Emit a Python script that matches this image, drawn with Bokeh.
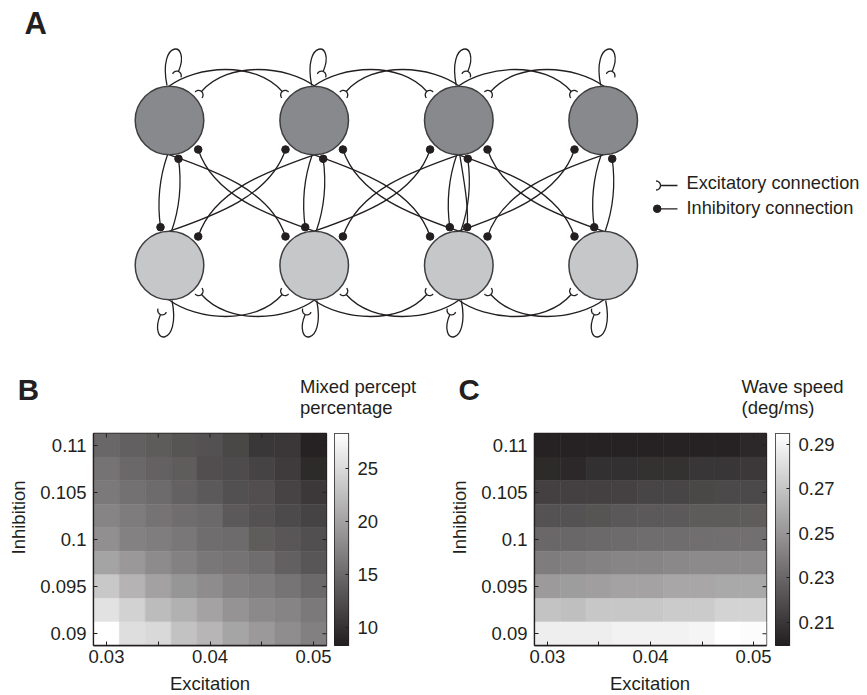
import numpy as np
from bokeh.plotting import figure
from bokeh.models import ColumnDataSource, Range1d, LinearColorMapper, FixedTicker
from bokeh.layouts import column, row
from bokeh.embed import file_html
from bokeh.resources import INLINE
from bokeh.core.properties import value

FONT = "Liberation Sans"
INK = "#231f20"

# ---------------- Panel A : network diagram ----------------
node_x = [169.0, 313.7, 458.3, 602.7]      # column centres (px)
row_y = [120.0, 265.0]                     # top row, bottom row (px)
node_r = 34.3
node_fill = ["#88898c", "#c6c7c9"]
extra_vertical = [2]                        # column with a second top->bottom inhibitory link
legend_labels = ["Excitatory connection", "Inhibitory connection"]

# ---------------- Panels B and C : parameter sweeps ----------------
excitation = [0.03, 0.0325, 0.035, 0.0375, 0.04, 0.0425, 0.045, 0.0475, 0.05]
inhibition_top_down = [0.11, 0.1075, 0.105, 0.1025, 0.1, 0.0975, 0.095, 0.0925, 0.09]

mixed_percept = [
    [14.7, 14.1, 13.6, 13.0, 12.8, 11.8, 10.4, 10.4, 8.5],
    [15.8, 14.8, 14.2, 13.7, 12.5, 12.2, 11.5, 10.8, 9.2],
    [16.3, 15.6, 15.0, 14.2, 13.5, 12.7, 12.5, 11.5, 10.6],
    [17.3, 16.6, 15.8, 15.3, 14.9, 13.5, 12.8, 12.1, 11.5],
    [18.3, 17.1, 16.7, 16.1, 15.3, 15.0, 13.7, 13.2, 12.6],
    [20.1, 19.1, 17.9, 17.1, 16.1, 15.8, 15.3, 14.1, 13.2],
    [23.3, 21.5, 19.9, 18.9, 18.0, 17.1, 16.6, 15.9, 14.9],
    [25.7, 24.3, 22.3, 21.3, 20.0, 18.6, 17.8, 17.3, 16.3],
    [28.3, 25.4, 24.9, 22.8, 21.7, 20.2, 19.2, 18.1, 16.9],
]
wave_speed = [
    [0.2008, 0.2008, 0.2008, 0.2009, 0.2009, 0.2008, 0.2008, 0.2008, 0.2034],
    [0.2043, 0.2034, 0.2069, 0.2069, 0.2073, 0.2073, 0.2095, 0.2095, 0.2104],
    [0.2138, 0.2138, 0.2138, 0.2143, 0.2156, 0.2156, 0.2164, 0.2177, 0.2177],
    [0.2212, 0.2212, 0.2221, 0.2238, 0.2242, 0.2242, 0.2251, 0.2251, 0.2255],
    [0.2303, 0.2303, 0.2312, 0.2321, 0.2329, 0.2329, 0.2334, 0.2338, 0.2338],
    [0.2394, 0.2403, 0.2420, 0.2429, 0.2429, 0.2442, 0.2451, 0.2451, 0.2451],
    [0.2520, 0.2529, 0.2538, 0.2551, 0.2551, 0.2572, 0.2572, 0.2581, 0.2581],
    [0.2694, 0.2677, 0.2711, 0.2711, 0.2711, 0.2729, 0.2729, 0.2763, 0.2763],
    [0.2876, 0.2876, 0.2876, 0.2894, 0.2894, 0.2894, 0.2907, 0.2950, 0.2937],
]
mixed_range = (8.26, 28.3)
speed_range = (0.1995, 0.295)

x_ticks = [0.03, 0.04, 0.05]
x_tick_labels = ["0.03", "0.04", "0.05"]
x_minor_ticks = [0.035, 0.045]
y_ticks = [0.09, 0.095, 0.1, 0.105, 0.11]
y_tick_labels = ["0.09", "0.095", "0.1", "0.105", "0.11"]
mixed_ticks = [10, 15, 20, 25]
mixed_tick_labels = ["10", "15", "20", "25"]
speed_ticks = [0.21, 0.23, 0.25, 0.27, 0.29]
speed_tick_labels = ["0.21", "0.23", "0.25", "0.27", "0.29"]

# grey colormap (printed black -> white)
c0 = np.array([35, 31, 32])
c1 = np.array([255, 255, 255])
GRAY = ["#%02x%02x%02x" % tuple(np.round(c0 + (c1 - c0) * t).astype(int))
        for t in np.linspace(0, 1, 256)]

# page layout (pixels)
PAGE_W = 865
TOP_H = 422            # panel A + titles of B/C
MID_TOP = TOP_H
FRAME_TOP, FRAME_H, FRAME_W = 433, 212, 233
MID_H = 250            # 422 .. 672
BOT_H = 22             # 672 .. 694
BOT_TOP = MID_TOP + MID_H


def common(**kw):
    return dict(output_backend="svg", toolbar_location=None, **kw)


def ptext(fig, xs, ys, texts, size=18.5, style="normal", align="left", angle=0.0, yflip=False):
    """Place text by its baseline point given in page pixels."""
    k = 0.36 * size   # renderer places glyphs this far below the anchor; compensate
    px = [x - k * np.sin(angle) for x in xs]
    py = [y - k * np.cos(angle) for y in ys]
    if yflip:
        py = [-y for y in py]
    fig.text(x=px, y=py, text=texts, text_font=value(FONT), text_font_size="%.1fpx" % size,
             text_font_style=style, text_color=INK, text_baseline="alphabetic",
             text_align=align, angle=angle)


# ======================= Panel A (plus panel titles) =======================
pa = figure(width=PAGE_W, height=TOP_H, x_range=Range1d(0, PAGE_W), y_range=Range1d(TOP_H, 0),
            x_axis_location=None, y_axis_location=None, min_border=0,
            outline_line_color=None, **common())
pa.grid.grid_line_color = None

yt, yb = row_y
ymid = 0.5 * (yt + yb)
bz = dict(x0=[], y0=[], x1=[], y1=[], cx0=[], cy0=[], cx1=[], cy1=[])
exc_ends = []
inh_ends = []


def add_curve(P0, P1, P2, P3, kind):
    bz["x0"].append(P0[0]); bz["y0"].append(P0[1])
    bz["cx0"].append(P1[0]); bz["cy0"].append(P1[1])
    bz["cx1"].append(P2[0]); bz["cy1"].append(P2[1])
    bz["x1"].append(P3[0]); bz["y1"].append(P3[1])
    d = np.array(P3, float) - np.array(P2, float)
    d = d / np.hypot(*d)
    if kind == "exc":
        exc_ends.append((np.array(P3, float), d))
    else:
        inh_ends.append(P3)


def mirror_x(pts, xc):
    return [(2 * xc - x, y) for x, y in pts]


def mirror_y(pts, yc):
    return [(x, 2 * yc - y) for x, y in pts]


def rot180(pts, xc, yc):
    return [(2 * xc - x, 2 * yc - y) for x, y in pts]


# self loops: top row, and the same loop turned round for the bottom row
for x in node_x:
    loop = [(x - 2.5, yt - 35), (x - 12, yt - 82), (x + 22, yt - 80), (x + 9, yt - 49)]
    add_curve(*loop, "exc")
    add_curve(*[(2 * x - px, yb - (py - yt)) for px, py in loop], "exc")

# excitatory arcs between neighbours (top row, mirrored for bottom row)
for i in range(len(node_x) - 1):
    xa, xb2 = node_x[i], node_x[i + 1]
    xc = 0.5 * (xa + xb2)
    S = (xa - 1, yt - node_r + 0.3)
    E = (xb2 - 32, yt - 29)
    arc = [S, (S[0] + 28, S[1] - 21), (E[0] - 27, E[1] - 31), E]
    for a in (arc, mirror_x(arc, xc)):
        add_curve(*a, "exc")
        add_curve(*mirror_y(a, ymid), "exc")

# vertical inhibitory connections
for x in node_x:
    v = [(x - 2, yt + node_r), (x - 11, yt + 60), (x - 12, yt + 85), (x - 9, yb - 38.3)]
    add_curve(*v, "inh")
    add_curve(*rot180(v, x, ymid), "inh")
for i in extra_vertical:
    x = node_x[i]
    add_curve((x + 1, yt + node_r), (x + 5, yt + 60), (x + 10, yt + 85), (x + 8.4, yb - 38.3),
              "inh")

# diagonal inhibitory connections
for i in range(len(node_x) - 1):
    xa, xb2 = node_x[i], node_x[i + 1]
    xc = 0.5 * (xa + xb2)
    P3 = (xb2 - 28.7, yb - 29)
    d = [(xa, yt + node_r), (xa + 46, yt + node_r + 16), (P3[0] - 15, P3[1] - 46), P3]
    for c in (d, mirror_x(d, xc), rot180(d, xc, ymid), mirror_x(rot180(d, xc, ymid), xc)):
        add_curve(*c, "inh")

pa.bezier(x0="x0", y0="y0", x1="x1", y1="y1", cx0="cx0", cy0="cy0", cx1="cx1", cy1="cy1",
          source=ColumnDataSource(bz), line_color=INK, line_width=1.3)

cx = [x for _ in row_y for x in node_x]
cy = [y for y in row_y for _ in node_x]
cf = [f for f in node_fill for _ in node_x]
pa.circle(x=cx, y=cy, radius=node_r, fill_color=cf, line_color="#3e3e40", line_width=1.5)


def cup(E, u, rho=4.5):
    n = np.array([-u[1], u[0]])
    c = E + u * rho
    ph = np.linspace(-np.pi / 2, np.pi / 2, 15)
    pts = [c + rho * (-u * np.cos(f) + n * np.sin(f)) for f in ph]
    return [p[0] for p in pts], [p[1] for p in pts]


# legend marks
leg_x0, leg_x1 = 677, 660
leg_y = [185.0, 208.3]
pa.segment(x0=[leg_x0, leg_x0], y0=leg_y, x1=[leg_x1, leg_x1 - 2], y1=leg_y,
           line_color=INK, line_width=1.3)
exc_ends.append((np.array([leg_x1, leg_y[0]]), np.array([-1.0, 0.0])))
inh_ends.append((leg_x1 - 3.3, leg_y[1]))

cups = [cup(E, u) for E, u in exc_ends]
pa.multi_line(xs=[c[0] for c in cups], ys=[c[1] for c in cups], line_color=INK, line_width=1.3)
pa.scatter(x=[p[0] for p in inh_ends], y=[p[1] for p in inh_ends], size=7.6,
           fill_color=INK, line_color=INK)

ptext(pa, [686.0, 686.0], [189.0, 214.5], legend_labels, size=18.2)
ptext(pa, [24], [34.3], ["A"], size=31, style="bold")
ptext(pa, [17.3, 458.0], [399.3, 399.3], ["B", "C"], size=29.5, style="bold")
ptext(pa, [299.5, 299.5, 741.0, 741.0], [392.5, 413.5, 392.5, 413.5],
      ["Mixed percept", "percentage", "Wave speed", "(deg/ms)"])

# ======================= Panels B, C =======================
dx = excitation[1] - excitation[0]
dy = inhibition_top_down[0] - inhibition_top_down[1]
TB = FRAME_TOP - MID_TOP
BB = MID_H - TB - FRAME_H


def style_axis(ax):
    ax.major_tick_in = 4
    ax.major_tick_out = 0
    ax.minor_tick_in = 4
    ax.minor_tick_out = 0
    ax.axis_line_color = INK
    ax.axis_line_width = 1.3
    ax.major_tick_line_color = INK
    ax.minor_tick_line_color = INK
    ax.major_label_text_font = FONT
    ax.major_label_text_font_size = "18.5px"
    ax.major_label_text_color = INK


def heat_panel(grid, mapper, fig_w, left):
    xr = Range1d(min(excitation) - dx / 2, max(excitation) + dx / 2)
    yr = Range1d(min(inhibition_top_down) - dy / 2, max(inhibition_top_down) + dy / 2)
    p = figure(width=fig_w, height=MID_H, x_range=xr, y_range=yr,
               min_border_left=left, min_border_right=fig_w - left - FRAME_W,
               min_border_top=TB, min_border_bottom=BB,
               outline_line_color=INK, outline_line_width=1.3, **common())
    p.grid.grid_line_color = None
    X, Y, V = [], [], []
    for r, yv in enumerate(inhibition_top_down):
        for c, xv in enumerate(excitation):
            X.append(xv); Y.append(yv); V.append(grid[r][c])
    src = ColumnDataSource(dict(x=X, y=Y, v=V))
    p.rect("x", "y", width=dx, height=dy, source=src,
           fill_color={"field": "v", "transform": mapper},
           line_color={"field": "v", "transform": mapper}, line_width=0.6)

    p.xaxis.ticker = FixedTicker(ticks=x_ticks, minor_ticks=x_minor_ticks)
    p.xaxis.major_label_overrides = dict(zip(x_ticks, x_tick_labels))
    p.yaxis.ticker = FixedTicker(ticks=y_ticks, minor_ticks=[])
    p.yaxis.major_label_overrides = dict(zip(y_ticks, y_tick_labels))
    style_axis(p.xaxis[0])
    style_axis(p.yaxis[0])
    p.xaxis.major_label_standoff = 4
    p.yaxis.major_label_standoff = 7

    # inward ticks on the top and right edges
    px_x = (xr.end - xr.start) / FRAME_W
    px_y = (yr.end - yr.start) / FRAME_H
    tx = x_ticks + x_minor_ticks
    p.segment(x0=tx, y0=[yr.end] * len(tx), x1=tx, y1=[yr.end - 4 * px_y] * len(tx),
              line_color=INK, line_width=1)
    p.segment(x0=[xr.end] * len(y_ticks), y0=y_ticks, x1=[xr.end - 4 * px_x] * len(y_ticks),
              y1=y_ticks, line_color=INK, line_width=1)
    return p


def colorbar_panel(mapper, ticks, labels, fig_w, bar_w):
    lo, hi = mapper.low, mapper.high
    p = figure(width=fig_w, height=MID_H, x_range=Range1d(0, 1), y_range=Range1d(lo, hi),
               x_axis_location=None, y_axis_location="right",
               min_border_left=0, min_border_right=fig_w - bar_w,
               min_border_top=TB, min_border_bottom=BB,
               outline_line_color=INK, outline_line_width=1.2, **common())
    p.grid.grid_line_color = None
    grad = np.linspace(lo, hi, 256).reshape(256, 1)
    p.image(image=[grad], x=0, y=lo, dw=1, dh=hi - lo, color_mapper=mapper)
    ax = p.yaxis[0]
    ax.ticker = FixedTicker(ticks=ticks, minor_ticks=[])
    ax.major_label_overrides = dict(zip(ticks, labels))
    style_axis(ax)
    ax.major_tick_in = 3
    ax.axis_line_color = None
    ax.major_label_standoff = 9
    return p


def ylabel_strip(fig_w, text_x):
    p = figure(width=fig_w, height=MID_H, x_range=Range1d(0, fig_w),
               y_range=Range1d(-(MID_TOP + MID_H), -MID_TOP),
               x_axis_location=None, y_axis_location=None, min_border=0,
               outline_line_color=None, **common())
    p.grid.grid_line_color = None
    ptext(p, [text_x], [521.0], ["Inhibition"], align="center", angle=np.pi / 2, yflip=True)
    return p


mapB = LinearColorMapper(palette=GRAY, low=mixed_range[0], high=mixed_range[1])
mapC = LinearColorMapper(palette=GRAY, low=speed_range[0], high=speed_range[1])

sB = ylabel_strip(36, 25.0)                       # 0 .. 36
pb = heat_panel(mixed_percept, mapB, 298, 57)     # 36 .. 334 (frame 93..326)
cbB = colorbar_panel(mapB, mixed_ticks, mixed_tick_labels, 116, 14)   # 334 .. 450
sC = ylabel_strip(28, 465.8 - 450)                # 450 .. 478
pc = heat_panel(wave_speed, mapC, 297, 55)        # 478 .. 775 (frame 533..766)
cbC = colorbar_panel(mapC, speed_ticks, speed_tick_labels, 90, 14)    # 775 .. 865

# bottom strip with the x-axis titles
pbot = figure(width=PAGE_W, height=BOT_H, x_range=Range1d(0, PAGE_W),
              y_range=Range1d(BOT_TOP + BOT_H, BOT_TOP),
              x_axis_location=None, y_axis_location=None, min_border=0,
              outline_line_color=None, **common())
pbot.grid.grid_line_color = None
ptext(pbot, [93 + FRAME_W / 2, 533 + FRAME_W / 2], [689.5, 689.5],
      ["Excitation", "Excitation"], align="center")

layout = column(pa, row(sB, pb, cbB, sC, pc, cbC), pbot)
open("out.html", "w").write(file_html(layout, INLINE))
